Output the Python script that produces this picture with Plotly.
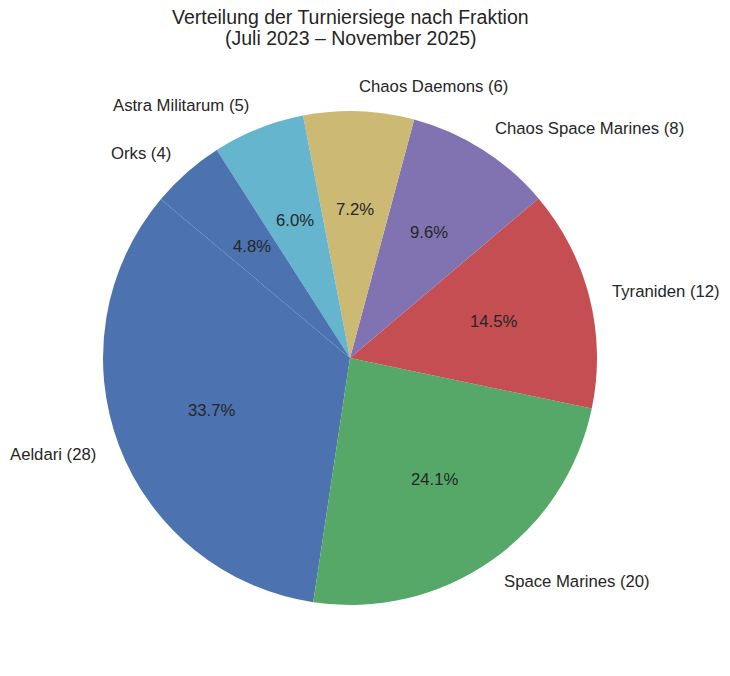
import math
import plotly.graph_objects as go

factions = ["Aeldari", "Space Marines", "Tyraniden", "Chaos Space Marines",
            "Chaos Daemons", "Astra Militarum", "Orks"]
wins = [28, 20, 12, 8, 6, 5, 4]
colors = ["#4C72B0", "#55A868", "#C44E52", "#8172B2", "#CCB974", "#64B5CD", "#4C72B0"]
title_lines = ["Verteilung der Turniersiege nach Fraktion", "(Juli 2023 – November 2025)"]

start_angle = 140.0  # degrees, counterclockwise from 3 o'clock (matplotlib style)

W, H = 730, 676
cx, cy, R = 350, 358, 247
ml, mr, mt, mb = cx - R, W - (cx + R), cy - R, H - (cy + R)
PH = H - mt - mb

total = sum(wins)
first_deg = 360.0 * wins[0] / total
# plotly (counterclockwise): first slice ends at math angle 90 - rotation
rotation = 90.0 - (start_angle + first_deg)

fig = go.Figure(go.Pie(
    labels=factions, values=wins, sort=False, direction="counterclockwise",
    rotation=rotation, marker=dict(colors=colors, line=dict(width=0)),
    textinfo="none", hoverinfo="label+value+percent", showlegend=False,
))

annotations = []
acc = 0.0
font_c = "#262626"
for name, v in zip(factions, wins):
    mid = start_angle + 360.0 * (acc + v / 2) / total
    acc += v
    rad = math.radians(mid)
    cxp, syp = math.cos(rad), math.sin(rad)
    right_side = cxp > 0
    annotations.append(dict(
        x=0.5 + 0.5 * 1.1 * cxp, y=0.5 + 0.5 * 1.1 * syp, xref="paper", yref="paper",
        text=f"{name} ({v})", showarrow=False,
        xanchor="left" if right_side else "right", yanchor="middle",
        xshift=-3 if right_side else 2,
        font=dict(size=16.7, color=font_c)))
    annotations.append(dict(
        x=0.5 + 0.5 * 0.6 * cxp, y=0.5 + 0.5 * 0.6 * syp, xref="paper", yref="paper",
        text=f"{100 * v / total:.1f}%", showarrow=False,
        xanchor="center", yanchor="middle",
        font=dict(size=16.7, color=font_c)))

for line, ypix in zip(title_lines, [17, 38]):
    annotations.append(dict(
        x=0.5, y=1 + (mt - ypix) / PH, xref="paper", yref="paper",
        text=line, showarrow=False, xanchor="center", yanchor="middle",
        font=dict(size=19.5, color=font_c)))

fig.update_layout(
    width=W, height=H,
    margin=dict(l=ml, r=mr, t=mt, b=mb),
    paper_bgcolor="white", plot_bgcolor="white",
    font=dict(family="Liberation Sans, Arial, sans-serif", color=font_c),
    annotations=annotations,
)

fig.write_html("out.html")
